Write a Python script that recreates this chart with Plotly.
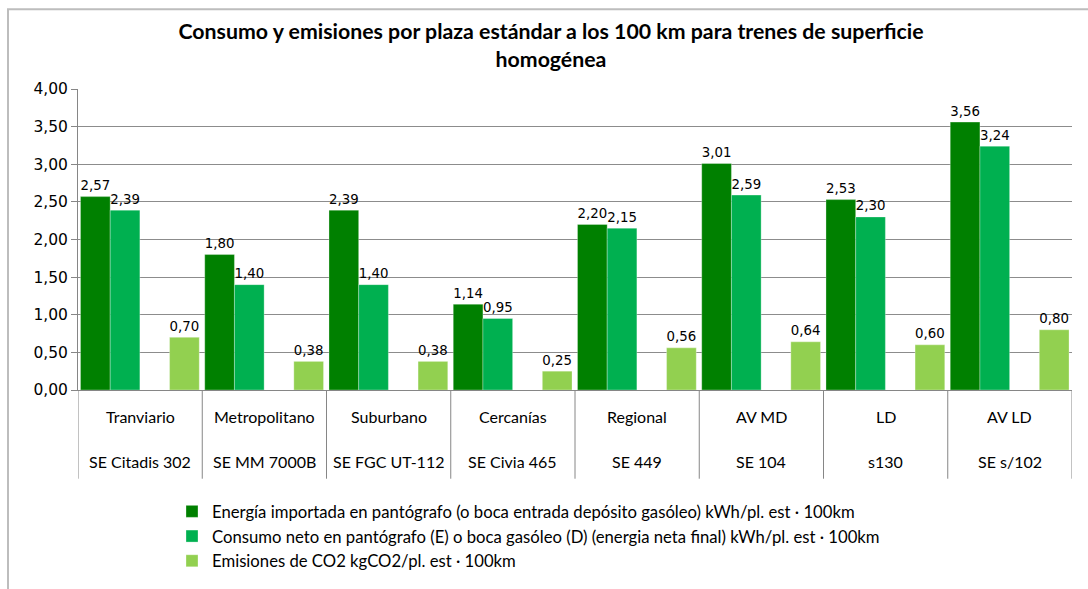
import plotly.graph_objects as go

categories = ["Tranviario", "Metropolitano", "Suburbano", "Cercanías",
              "Regional", "AV MD", "LD", "AV LD"]
subcategories = ["SE Citadis 302", "SE MM 7000B", "SE FGC UT-112", "SE Civia 465",
                 "SE 449", "SE 104", "s130", "SE s/102"]
energia_importada = [2.57, 1.80, 2.39, 1.14, 2.20, 3.01, 2.53, 3.56]
consumo_neto = [2.39, 1.40, 1.40, 0.95, 2.15, 2.59, 2.30, 3.24]
emisiones_co2 = [0.70, 0.38, 0.38, 0.25, 0.56, 0.64, 0.60, 0.80]

series_names = [
    "Energía importada en pantógrafo (o boca entrada depósito gasóleo) kWh/pl. est · 100km",
    "Consumo neto en pantógrafo (E) o boca gasóleo (D) (energia neta final) kWh/pl. est · 100km",
    "Emisiones de CO2 kgCO2/pl. est · 100km",
]
colors = ["#008000", "#00B050", "#92D050"]

W, H = 1088, 589
L, R, T, B = 78, 1072, 89, 391
pw, ph = R - L, B - T

def py(pix):
    return (B - pix) / ph

def px(pix):
    return (pix - L) / pw

fig = go.Figure()
slot = 0.239
offsets = [-0.48, -0.48 + slot, -0.48 + 3 * slot]
for name, vals, col, off in zip(series_names, [energia_importada, consumo_neto, emisiones_co2], colors, offsets):
    fig.add_trace(go.Bar(
        name=name, x=categories, y=vals, offset=off, width=slot,
        marker=dict(color=col, line=dict(color="rgba(255,255,255,0.5)", width=0.6)),
        texttemplate="%{y:.2f}", textposition="outside", cliponaxis=False,
        textfont=dict(family="DejaVu Sans", size=15, color="#000000"),
    ))

shapes = []
for i in range(len(categories) + 1):
    shapes.append(dict(type="line", xref="x", yref="paper", x0=i - 0.5, x1=i - 0.5,
                       y0=0, y1=py(480), line=dict(color="#868686", width=1)))
# outer chart border
shapes.append(dict(type="rect", xref="paper", yref="paper", x0=px(8), x1=px(1100),
                   y0=py(600), y1=py(9), line=dict(color="#BDBDBD", width=2),
                   fillcolor="rgba(0,0,0,0)", layer="below"))

annotations = []
for i, (c, s) in enumerate(zip(categories, subcategories)):
    annotations.append(dict(x=i, y=py(418), xref="x", yref="paper", text=c, showarrow=False,
                            font=dict(family="Lato", size=16, color="#000000"), yanchor="middle"))
    annotations.append(dict(x=i, y=py(463), xref="x", yref="paper", text=s, showarrow=False,
                            font=dict(family="Lato", size=16, color="#000000"), yanchor="middle"))

fig.update_layout(
    width=W, height=H,
    margin=dict(l=L, r=W - R, t=T, b=H - B),
    paper_bgcolor="white", plot_bgcolor="white",
    separators=",.",
    title=dict(text="<b>Consumo y emisiones por plaza estándar a los 100 km para trenes de superficie<br>homogénea</b>",
               x=551 / W, xref="container", xanchor="center",
               y=1 - 39 / H, yref="container", yanchor="middle",
               font=dict(family="Lato", size=21.3, color="#000000")),
    barmode="group",
    showlegend=True,
    legend=dict(x=px(172), y=py(494), xref="paper", yref="paper", xanchor="left", yanchor="top",
                orientation="v", font=dict(family="Lato", size=16.7, color="#000000"),
                bgcolor="rgba(0,0,0,0)", traceorder="normal", tracegroupgap=0),
    xaxis=dict(range=[-0.5, len(categories) - 0.5], showticklabels=False, showgrid=False,
               showline=True, linecolor="#868686", linewidth=1, ticks=""),
    yaxis=dict(range=[0, 4], dtick=0.5, tickformat=".2f", showgrid=True, gridcolor="#8C8C8C",
               gridwidth=1, showline=True, linecolor="#868686", linewidth=1, ticks="outside",
               ticklen=6, tickcolor="#868686", zeroline=False,
               tickfont=dict(family="DejaVu Sans", size=15.5, color="#000000")),
    shapes=shapes,
    annotations=annotations,
)

fig.write_html("out.html", config={"displayModeBar": False},
               post_script="document.body.style.margin='0';document.body.style.overflow='hidden';")
